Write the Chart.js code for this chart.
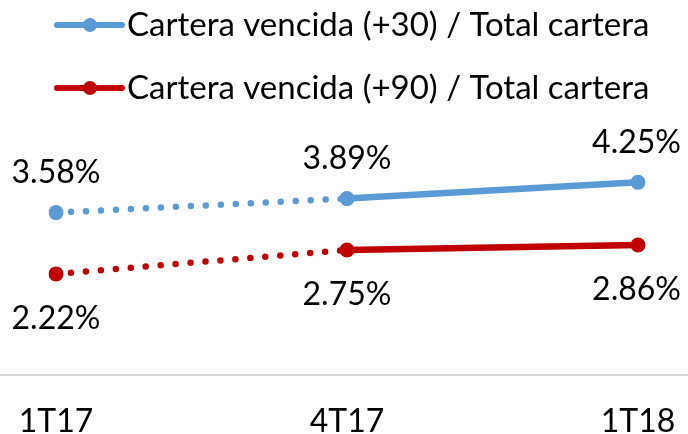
<!DOCTYPE html>
<html>
<head>
<meta charset="utf-8">
<script src="https://cdn.jsdelivr.net/npm/chart.js@4/dist/chart.umd.min.js"></script>
<style>
  html, body { margin: 0; padding: 0; background: #fff; }
  #wrap { width: 688px; height: 434px; }
</style>
</head>
<body>
<div id="wrap"><canvas id="lineChart"></canvas></div>
<script>
var categories = ['1T17', '4T17', '1T18'];
var cartera30 = [3.58, 3.89, 4.25];
var cartera90 = [2.22, 2.75, 2.86];
var seriesNames = ['Cartera vencida (+30) / Total cartera', 'Cartera vencida (+90) / Total cartera'];

var FONT = 'Lato, "Open Sans", sans-serif';
var BLUE = '#5B9BD5';
var RED = '#C00000';

// first segment is dotted, rest solid
var dotted = function(ctx) { return ctx.p0DataIndex === 0 ? [0, 15] : undefined; };

var valueLabels = {
    id: 'valueLabels',
    afterDatasetsDraw: function(chart) {
        var ctx = chart.ctx;
        ctx.save();
        ctx.font = '32px ' + FONT;
        ctx.fillStyle = '#000';
        ctx.textAlign = 'center';
        ctx.textBaseline = 'middle';
        chart.data.datasets.forEach(function(ds, i) {
            var meta = chart.getDatasetMeta(i);
            var off = i === 0 ? -40 : 45;
            meta.data.forEach(function(pt, j) {
                var txt = ds.data[j].toFixed(2) + '%';
                var w = ctx.measureText(txt).width;
                var x = Math.min(pt.x, chart.width - 7 - w / 2);
                ctx.fillText(txt, x, pt.y + off);
            });
        });
        ctx.restore();
    }
};

var topLegend = {
    id: 'topLegend',
    afterDraw: function(chart) {
        var ctx = chart.ctx;
        ctx.save();
        chart.data.datasets.forEach(function(ds, i) {
            var y = 25 + i * 63;
            ctx.strokeStyle = ds.borderColor;
            ctx.lineWidth = 6;
            ctx.lineCap = 'round';
            ctx.beginPath();
            ctx.moveTo(57, y);
            ctx.lineTo(122, y);
            ctx.stroke();
            ctx.fillStyle = ds.borderColor;
            ctx.beginPath();
            ctx.arc(90, y, 7, 0, Math.PI * 2);
            ctx.fill();
            ctx.fillStyle = '#000';
            ctx.font = '33px ' + FONT;
            ctx.textBaseline = 'middle';
            ctx.textAlign = 'left';
            ctx.fillText(ds.label, 127, y);
        });
        ctx.restore();
    }
};

var axisLine = {
    id: 'axisLine',
    beforeDatasetsDraw: function(chart) {
        var ctx = chart.ctx;
        var y = chart.chartArea.bottom + 1;
        ctx.save();
        ctx.strokeStyle = '#d9d9d9';
        ctx.lineWidth = 2;
        ctx.beginPath();
        ctx.moveTo(0, y);
        ctx.lineTo(chart.width, y);
        ctx.stroke();
        ctx.restore();
    }
};

var lineChart = document.getElementById('lineChart').getContext('2d');
var myLineChart = new Chart(lineChart, {
    type: 'line',
    data: {
        labels: categories,
        datasets: [{
            label: seriesNames[0],
            data: cartera30,
            borderColor: BLUE,
            backgroundColor: BLUE,
            borderWidth: 6.5,
            borderCapStyle: 'round',
            pointRadius: 7.5,
            pointBorderWidth: 0,
            segment: { borderDash: dotted }
        }, {
            label: seriesNames[1],
            data: cartera90,
            borderColor: RED,
            backgroundColor: RED,
            borderWidth: 6.5,
            borderCapStyle: 'round',
            pointRadius: 7.5,
            pointBorderWidth: 0,
            segment: { borderDash: dotted }
        }]
    },
    options: {
        responsive: true,
        maintainAspectRatio: false,
        animation: false,
        layout: {
            padding: { left: 56, right: 50, top: 126, bottom: 0 }
        },
        plugins: {
            legend: { display: false },
            tooltip: { enabled: false }
        },
        scales: {
            x: {
                offset: false,
                grid: { display: false },
                border: { display: false },
                afterFit: function(scale) { scale.height = 60; },
                ticks: {
                    color: '#000',
                    padding: 4,
                    font: { family: FONT, size: 32, lineHeight: 2.25 }
                }
            },
            y: {
                display: false,
                min: 0,
                max: 5.5
            }
        }
    },
    plugins: [axisLine, valueLabels, topLegend]
});
</script>
</body>
</html>
